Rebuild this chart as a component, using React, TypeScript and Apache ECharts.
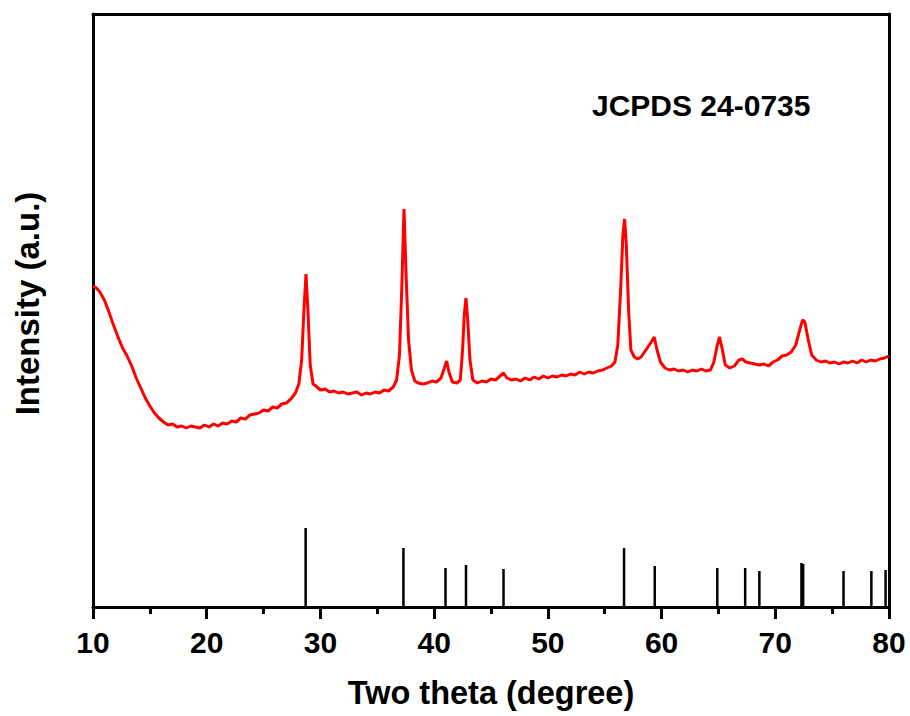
import React, { useEffect, useRef } from "react";
import * as echarts from "echarts";

// Measured XRD pattern: [2θ (degree), intensity (a.u.)]
const pattern: [number, number][] = [
  [10.0, 321], [10.3, 319], [10.6, 315], [11.0, 307], [11.4, 295], [11.8, 282], [12.2, 270],
  [12.6, 259], [13.0, 251], [13.4, 241], [13.8, 229], [14.2, 219], [14.6, 209], [15.0, 201],
  [15.4, 194], [15.8, 189], [16.2, 185], [16.6, 182], [17.0, 183], [17.4, 180], [17.8, 181],
  [18.2, 179], [18.6, 181], [19.0, 180], [19.4, 179], [19.8, 182], [20.2, 180], [20.6, 183],
  [21.0, 181], [21.4, 184], [21.8, 183], [22.2, 186], [22.6, 185], [23.0, 189], [23.4, 188],
  [23.8, 192], [24.2, 193], [24.6, 194], [25.0, 197], [25.4, 196], [25.8, 200], [26.2, 199],
  [26.6, 203], [27.0, 204], [27.4, 208], [27.8, 214], [28.1, 223], [28.35, 247], [28.55, 297],
  [28.73, 333], [28.9, 297], [29.1, 242], [29.35, 223], [29.6, 221], [30.0, 217], [30.4, 218],
  [30.8, 215], [31.2, 216], [31.6, 214], [32.0, 215], [32.4, 213], [32.8, 214], [33.2, 215],
  [33.6, 212], [34.0, 214], [34.4, 213], [34.8, 215], [35.2, 214], [35.6, 217], [36.0, 216],
  [36.4, 220], [36.7, 227], [36.95, 252], [37.15, 317], [37.35, 398], [37.55, 327], [37.75, 267],
  [38.0, 237], [38.3, 226], [38.6, 224], [39.0, 223], [39.4, 224], [39.8, 226], [40.2, 225],
  [40.6, 229], [40.9, 239], [41.1, 246], [41.3, 235], [41.6, 225], [42.0, 224], [42.3, 227],
  [42.5, 257], [42.65, 292], [42.8, 309], [42.95, 287], [43.15, 247], [43.4, 227], [43.8, 224],
  [44.2, 226], [44.6, 225], [45.0, 228], [45.4, 227], [45.8, 231], [46.1, 234], [46.4, 229],
  [46.8, 227], [47.2, 228], [47.6, 226], [48.0, 229], [48.4, 227], [48.8, 230], [49.2, 228],
  [49.6, 231], [50.0, 229], [50.4, 231], [50.8, 230], [51.2, 232], [51.6, 231], [52.0, 233],
  [52.4, 232], [52.8, 235], [53.2, 233], [53.6, 235], [54.0, 234], [54.4, 236], [54.8, 237],
  [55.2, 239], [55.6, 241], [55.9, 245], [56.15, 262], [56.4, 317], [56.6, 372], [56.75, 388],
  [56.9, 362], [57.1, 297], [57.3, 257], [57.6, 250], [57.9, 248], [58.2, 250], [58.5, 255],
  [58.8, 260], [59.1, 265], [59.35, 270], [59.6, 257], [59.9, 245], [60.3, 239], [60.7, 237],
  [61.1, 238], [61.5, 236], [61.9, 237], [62.3, 235], [62.7, 237], [63.1, 236], [63.5, 238],
  [63.9, 236], [64.3, 237], [64.6, 245], [64.9, 262], [65.1, 270], [65.35, 257], [65.6, 242],
  [66.0, 239], [66.4, 241], [66.8, 247], [67.1, 248], [67.4, 245], [67.8, 244], [68.2, 243],
  [68.6, 242], [69.0, 243], [69.4, 241], [69.8, 245], [70.2, 247], [70.6, 251], [71.0, 252],
  [71.4, 255], [71.8, 262], [72.1, 275], [72.4, 287], [72.6, 285], [72.9, 267], [73.2, 252],
  [73.6, 247], [74.0, 245], [74.4, 246], [74.8, 244], [75.2, 245], [75.6, 243], [76.0, 245],
  [76.4, 244], [76.8, 246], [77.2, 244], [77.6, 247], [78.0, 245], [78.4, 247], [78.8, 246],
  [79.2, 248], [79.6, 249], [80.0, 251],
];

// JCPDS 24-0735 reference lines
const refPositions = [28.7, 37.3, 41.0, 42.8, 46.1, 56.7, 59.4, 64.9, 67.35, 68.6, 72.3, 72.45, 76.0, 78.45, 79.7];
const refIntensities = [79, 59, 39, 42, 38, 59, 41, 39, 39, 36, 44, 43, 36, 36, 37];

const xTicks = [10, 20, 30, 40, 50, 60, 70, 80];

const FONT = "'Liberation Sans', Arial, Helvetica, sans-serif";

export default function App() {
  const ref = useRef<HTMLDivElement>(null);

  useEffect(() => {
    if (!ref.current) return;
    const chart = echarts.init(ref.current, undefined, { renderer: "svg" });
    const axisLine = { show: true, onZero: false, lineStyle: { color: "#000", width: 3 } };
    chart.setOption({
      animation: false,
      backgroundColor: "#fff",
      grid: { left: 93, right: 21, top: 14, bottom: 109 },
      xAxis: [
        {
          type: "value",
          position: "bottom",
          min: xTicks[0],
          max: xTicks[xTicks.length - 1],
          interval: 10,
          axisLine,
          axisTick: { show: true, inside: false, length: 12, lineStyle: { color: "#000", width: 3 } },
          minorTick: { show: true, splitNumber: 2, length: 7, lineStyle: { color: "#000", width: 3 } },
          splitLine: { show: false },
          axisLabel: { color: "#000", fontSize: 30, fontWeight: "bold", fontFamily: FONT, margin: 20 },
          name: "Two theta (degree)",
          nameLocation: "middle",
          nameGap: 69,
          nameTextStyle: { color: "#000", fontSize: 32.5, fontWeight: "bold", fontFamily: FONT },
        },
        {
          type: "value",
          position: "top",
          min: xTicks[0],
          max: xTicks[xTicks.length - 1],
          axisLine,
          axisTick: { show: false },
          axisLabel: { show: false },
          splitLine: { show: false },
        },
      ],
      yAxis: [
        {
          type: "value",
          position: "left",
          min: 0,
          max: 593,
          axisLine,
          axisTick: { show: false },
          axisLabel: { show: false },
          splitLine: { show: false },
          name: "Intensity (a.u.)",
          nameLocation: "middle",
          nameGap: 49,
          nameTextStyle: {
            color: "#000",
            fontSize: 33,
            fontWeight: "bold",
            fontFamily: FONT,
            padding: [0, 0, 0, 14],
          },
        },
        {
          type: "value",
          position: "right",
          min: 0,
          max: 593,
          axisLine,
          axisTick: { show: false },
          axisLabel: { show: false },
          splitLine: { show: false },
        },
      ],
      graphic: [
        {
          type: "text",
          left: 592,
          top: 90,
          style: {
            text: "JCPDS 24-0735",
            fill: "#000",
            font: `bold 30px ${FONT}`,
          },
        },
      ],
      series: [
        {
          type: "bar",
          xAxisIndex: 0,
          yAxisIndex: 0,
          barWidth: 2.5,
          itemStyle: { color: "#000" },
          data: refPositions.map((p, i) => [p, refIntensities[i]]),
          silent: true,
        },
        {
          type: "line",
          xAxisIndex: 0,
          yAxisIndex: 0,
          data: pattern,
          showSymbol: false,
          symbol: "none",
          lineStyle: { color: "#ff0000", width: 3 },
          silent: true,
        },
      ],
    });
    return () => chart.dispose();
  }, []);

  return (
    <div
      ref={ref}
      style={{ position: "fixed", left: 0, top: 0, width: 910, height: 716 }}
    />
  );
}
